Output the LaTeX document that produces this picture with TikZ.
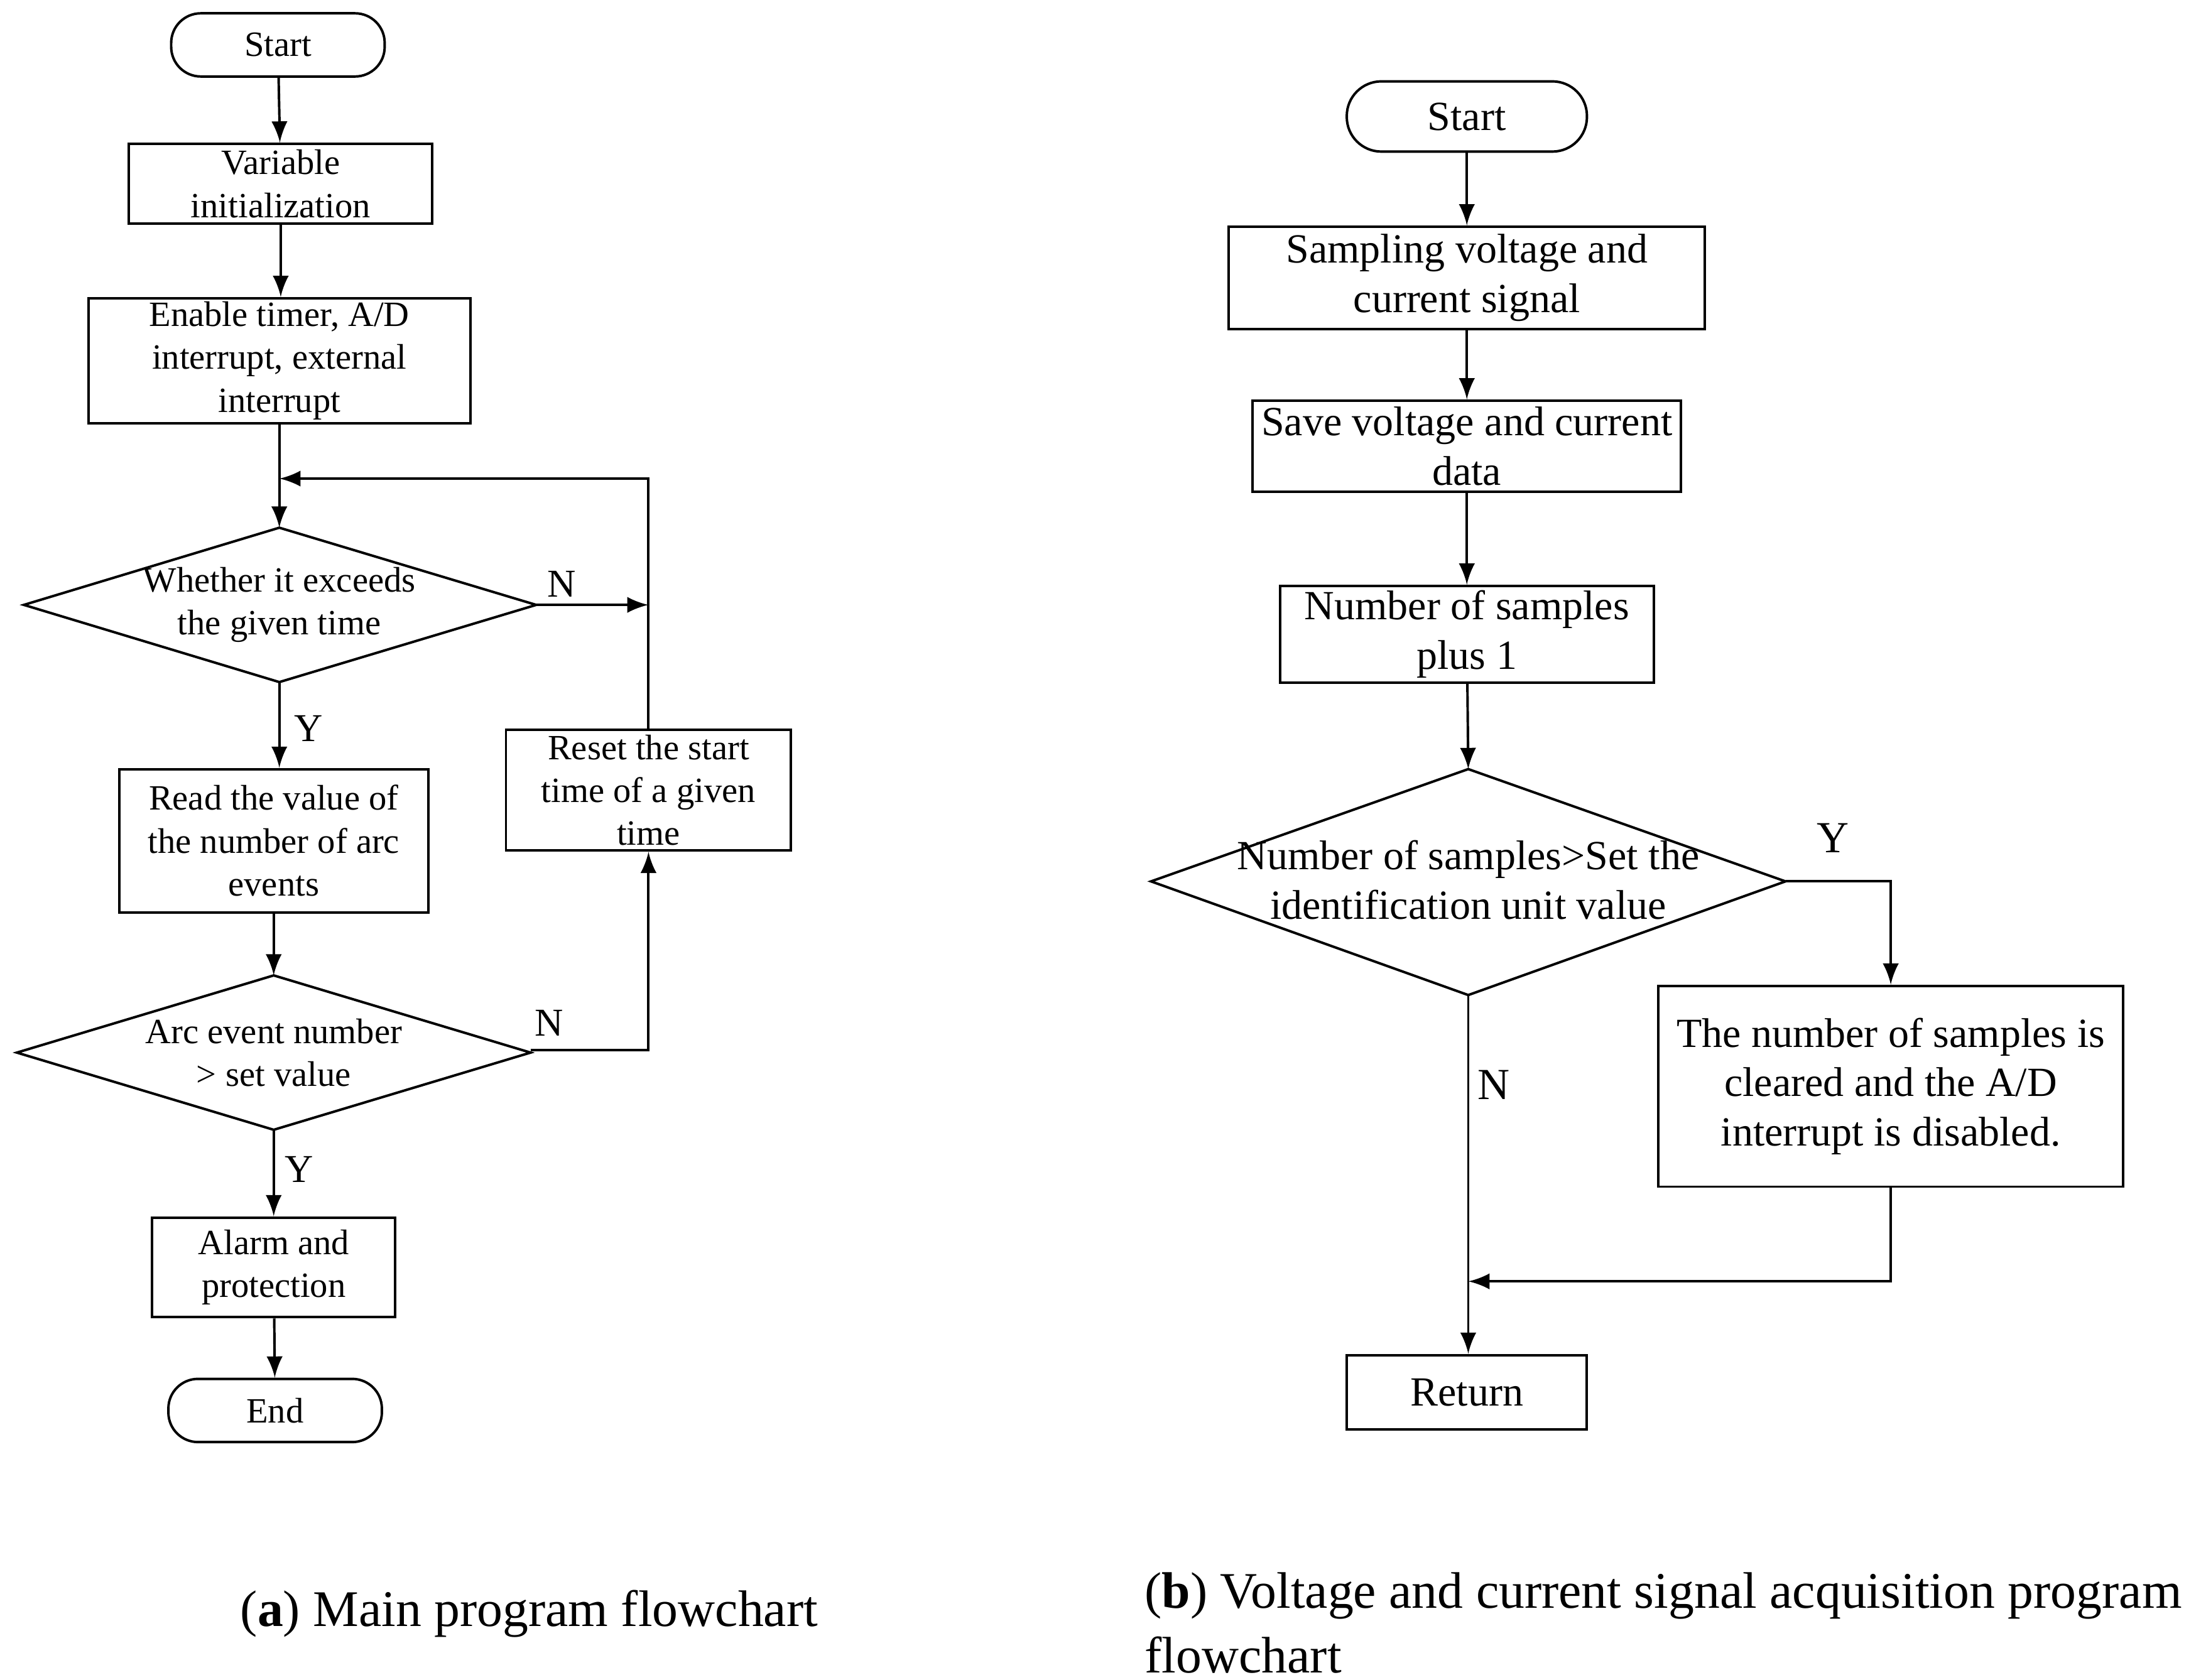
\documentclass[tikz,border=0pt]{standalone}
\usepackage{fontspec}
\setmainfont{Liberation Serif}
\begin{document}
\begin{tikzpicture}[x=0.01cm,y=-0.01cm,line width=0.5pt,
  box/.style={draw,align=center,inner sep=0pt},
  ta/.style={font=\fontsize{7.2}{8.7}\selectfont},
  tb/.style={font=\fontsize{8.4}{10}\selectfont},
  arr/.style={->,>=latex},
  lab/.style={font=\fontsize{8}{9}\selectfont}]
\useasboundingbox (0,0) rectangle (1568,1197);
% left
\node[box,ta,rounded corners=6pt,minimum width=1.52cm,minimum height=0.45cm] (s1) at (198,32) {Start};
\node[box,ta,minimum width=2.16cm,minimum height=0.57cm] (v) at (200,131) {Variable\\initialization};
\node[box,ta,minimum width=2.72cm,minimum height=0.89cm] (en) at (199,257) {Enable timer, A/D\\interrupt, external\\interrupt};
\draw (17,431) -- (199,376) -- (382,431) -- (199,486) -- cycle;
\coordinate (d1t) at (199,376); \coordinate (d1b) at (199,486); \coordinate (d1r) at (382,431);
\node[ta,align=center] (d1) at (199,431) {Whether it exceeds\\the given time};
\node[box,ta,minimum width=2.2cm,minimum height=1.02cm] (rd) at (195,599) {Read the value of\\the number of arc\\events};
\draw (12,750) -- (195,695) -- (378,750) -- (195,805) -- cycle;
\coordinate (d2t) at (195,695); \coordinate (d2b) at (195,805); \coordinate (d2r) at (378,748);
\node[ta,align=center] (d2) at (195,750) {Arc event number\\> set value};
\node[box,ta,minimum width=1.73cm,minimum height=0.71cm] (al) at (195,903) {Alarm and\\protection};
\node[box,ta,rounded corners=6pt,minimum width=1.52cm,minimum height=0.45cm] (e1) at (196,1005) {End};
\node[box,ta,minimum width=2.03cm,minimum height=0.86cm] (rs) at (462,563) {Reset the start\\time of a given\\time};
\coordinate (lp) at (199,341); \coordinate (c1) at (462,431); \coordinate (c2) at (462,748);
\draw[arr] (s1) -- (v);
\draw[arr] (v) -- (v|-en.north);
\draw[arr] (en.south-|d1t) -- (d1t);
\draw[arr] (rs.north) |- (lp);
\draw[arr] (d1r) -- (c1);
\node[lab] (n1) at (400,416) {N};
\draw[arr] (d1b) -- (d1b|-rd.north);
\node[lab] (y1) at (220,519) {Y};
\draw[arr] (rd) -- (d2t);
\draw[arr] (d2r) -- (c2) -- (rs.south);
\node[lab] (n2) at (391,729) {N};
\draw[arr] (d2b) -- (al);
\node[lab] (y2) at (213,833) {Y};
\draw[arr] (al) -- (e1);
% right
\node[box,tb,rounded corners=7pt,minimum width=1.71cm,minimum height=0.5cm] (s2) at (1045,83) {Start};
\node[box,tb,minimum width=3.39cm,minimum height=0.73cm] (sa) at (1045,198) {Sampling voltage and\\current signal};
\node[box,tb,minimum width=3.05cm,minimum height=0.65cm] (sv) at (1045,318) {Save voltage and current\\data};
\node[box,tb,minimum width=2.66cm,minimum height=0.69cm] (nu) at (1045,452) {Number of samples\\plus 1};
\draw (820,628) -- (1046,548) -- (1272,628) -- (1046,709) -- cycle;
\coordinate (d3t) at (1046,548); \coordinate (d3b) at (1046,709); \coordinate (d3r) at (1272,628);
\node[tb,align=center] (d3) at (1046,627) {Number of samples>Set the\\identification unit value};
\node[box,tb,minimum width=3.31cm,minimum height=1.43cm] (cl) at (1347,774) {The number of samples is\\cleared and the A/D\\interrupt is disabled.};
\node[box,tb,minimum width=1.71cm,minimum height=0.53cm] (rt) at (1045,992) {Return};
\coordinate (c3) at (1347,628); \coordinate (c4) at (1347,913); \coordinate (c5) at (1046,913);
\draw[arr] (s2) -- (sa);
\draw[arr] (sa) -- (sv);
\draw[arr] (sv) -- (nu);
\draw[arr] (nu) -- (d3t);
\draw[arr] (d3r) -- (c3) -- (cl.north);
\node[lab,font=\fontsize{9}{10}\selectfont] (y3) at (1306,597) {Y};
\draw[arr] (d3b) -- (rt.north-|d3b);
\node[lab,font=\fontsize{9}{10}\selectfont] (n3) at (1064,773) {N};
\draw[arr] (cl.south) -- (c4) -- (c5);
% captions
\node[font=\fontsize{10.4}{13}\selectfont] (ca) at (377,1150) {(\textbf{a}) Main program flowchart};
\node[font=\fontsize{10.4}{13}\selectfont,anchor=north west,align=left] (cb) at (803,1108) {(\textbf{b}) Voltage and current signal acquisition program\\flowchart};
\end{tikzpicture}
\end{document}
